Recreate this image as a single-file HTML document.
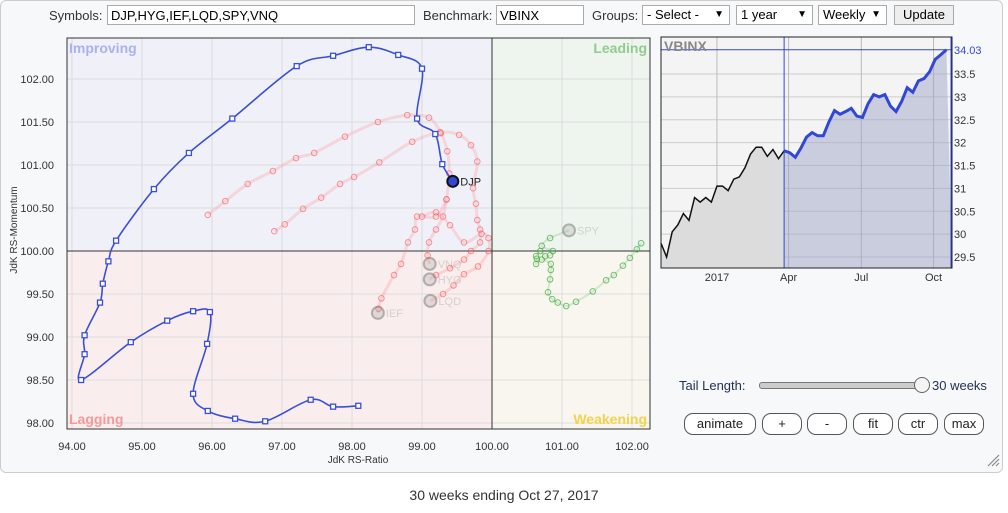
<!DOCTYPE html>
<html><head><meta charset="utf-8"><style>
body{margin:0;width:1008px;height:513px;background:#fff;font-family:"Liberation Sans",Arial,sans-serif;overflow:hidden;position:relative}
#panel{position:absolute;left:0;top:0;width:1001px;height:471px;border:1px solid #ccc;border-radius:6px;background:#f7f8fa}
.ctl{position:absolute;font-size:13px;color:#333}
.inp{position:absolute;height:20px;border:1px solid #aaa;background:#fff;font-size:13px;line-height:20px;padding-left:3px;box-sizing:border-box}
.sel{position:absolute;height:20px;border:1px solid #aaa;background:#fff;font-size:13px;line-height:18px;padding-left:4px;box-sizing:border-box}
.sel span{position:absolute;right:5px;font-size:10px}
.btn{position:absolute;height:22px;border:1px solid #555;border-radius:9px;background:#fff;font-size:13px;line-height:20px;text-align:center;box-sizing:border-box;color:#222}
#cap{position:absolute;top:487px;left:0;width:1008px;text-align:center;font-size:14px;color:#333}
</style></head><body>
<div id="panel"></div>
<div class="ctl" style="left:49px;top:8px">Symbols:</div>
<div class="inp" style="left:107px;top:5px;width:308px">DJP,HYG,IEF,LQD,SPY,VNQ</div>
<div class="ctl" style="left:423px;top:8px">Benchmark:</div>
<div class="inp" style="left:496px;top:5px;width:88px">VBINX</div>
<div class="ctl" style="left:592px;top:8px">Groups:</div>
<div class="sel" style="left:642px;top:5px;width:88px">- Select -<span>▼</span></div>
<div class="sel" style="left:736px;top:5px;width:77px">1 year<span>▼</span></div>
<div class="sel" style="left:818px;top:5px;width:69px">Weekly<span>▼</span></div>
<div class="sel" style="left:894px;top:5px;width:60px;background:#eee;text-align:center;padding:0">Update</div>
<svg id="svg" width="1008" height="513" style="position:absolute;left:0;top:0"></svg>
<div class="ctl" style="left:679px;top:378px;color:#235">Tail Length:</div>
<div style="position:absolute;left:759px;top:382px;width:162px;height:5px;border:1px solid #777;border-radius:3px;background:#ccc"></div>
<div style="position:absolute;left:914px;top:377px;width:14px;height:14px;border:1px solid #666;border-radius:50%;background:#f4f4f4"></div>
<div class="ctl" style="left:932px;top:378px;color:#235">30 weeks</div>
<div class="btn" style="left:684px;top:413px;width:72px">animate</div>
<div class="btn" style="left:762px;top:413px;width:40px">+</div>
<div class="btn" style="left:807px;top:413px;width:40px">-</div>
<div class="btn" style="left:853px;top:413px;width:40px">fit</div>
<div class="btn" style="left:898px;top:413px;width:40px">ctr</div>
<div class="btn" style="left:944px;top:413px;width:40px">max</div>
<div id="cap">30 weeks ending Oct 27, 2017</div>
<script>
const xTicks=[94,95,96,97,98,99,100,101,102];
const yTicks=[98,98.5,99,99.5,100,100.5,101,101.5,102];
const djpRatio=[98.09,97.73,97.41,96.76,96.33,95.94,95.73,95.93,95.97,95.73,95.36,94.84,94.13,94.18,94.18,94.40,94.44,94.52,94.63,95.17,95.67,96.29,97.21,97.73,98.24,98.66,99.0,98.93,99.19,99.29,99.44];
const djpMom=[98.20,98.19,98.27,98.02,98.05,98.14,98.34,98.92,99.29,99.30,99.19,98.94,98.50,98.80,99.02,99.40,99.62,99.88,100.12,100.72,101.14,101.54,102.15,102.27,102.37,102.28,102.12,101.54,101.36,101.01,100.81];
const vnqRatio=[95.94,96.19,96.51,96.87,97.2,97.46,97.9,98.37,98.79,99.1,99.27,99.36,99.39,99.35,99.3,99.2,99.1,99.08,99.11];
const vnqMom=[100.42,100.58,100.78,100.93,101.08,101.14,101.33,101.5,101.58,101.55,101.37,101.16,100.9,100.6,100.4,100.25,100.1,99.95,99.85];
const hygRatio=[96.89,97.04,97.3,97.56,97.83,98.03,98.39,98.86,99.26,99.53,99.7,99.79,99.73,99.77,99.79,99.83,99.83,99.7,99.6,99.4,99.2,99.11];
const hygMom=[100.23,100.31,100.49,100.62,100.78,100.86,101.03,101.27,101.38,101.35,101.23,101.04,100.73,100.55,100.36,100.25,100.1,100.0,99.9,99.8,99.72,99.67];
const lqdRatio=[99.0,99.2,99.4,99.6,99.85,99.95,99.95,99.8,99.6,99.45,99.3,99.12];
const lqdMom=[100.4,100.45,100.3,100.1,100.2,100.15,100.0,99.82,99.73,99.6,99.5,99.42];
const iefRatio=[99.35,99.2,98.93,98.9,98.8,98.7,98.6,98.42,98.38,98.37];
const iefMom=[100.6,100.4,100.4,100.25,100.1,99.85,99.72,99.45,99.33,99.28];
const spyRatio=[102.13,102.07,101.97,101.87,101.74,101.63,101.44,101.2,101.06,100.94,100.86,100.8,100.83,100.84,100.84,100.71,100.63,100.64,100.63,100.69,100.76,100.83,100.87,100.71,100.83,101.1];
const spyMom=[100.09,100.02,99.92,99.83,99.72,99.66,99.53,99.41,99.36,99.40,99.44,99.52,99.67,99.78,99.85,99.9,99.85,99.91,99.94,100.0,99.94,99.95,100.0,100.06,100.15,100.24];
const benchPre=[29.8,29.5,30.05,30.2,30.45,30.3,30.8,30.7,30.8,30.7,31.05,31.05,30.95,31.2,31.25,31.45,31.75,31.9,31.9,31.7,31.85,31.65,31.82];
const benchTail=[31.82,31.78,31.68,31.88,32.12,32.22,32.15,32.15,32.45,32.7,32.62,32.68,32.75,32.58,32.55,32.85,33.05,33.0,33.05,32.8,32.68,32.9,33.2,33.1,33.35,33.4,33.55,33.82,33.92,34.03];
const benchTicks=[29.5,30,30.5,31,31.5,32,32.5,33,33.5];
const monthLabels=["2017","Apr","Jul","Oct"];
const monthWeeks=[10,22.8,35.8,48.7];

const S=document.getElementById('svg');const NS='http://www.w3.org/2000/svg';
function mk(t,a,p){const e=document.createElementNS(NS,t);for(const k in a)e.setAttribute(k,a[k]);(p||S).appendChild(e);return e;}
const L=67,R=650,T=38,B=429;
const X=v=>72+(v-94)*70, Y=v=>251-(v-100)*86;
const cx=X(100),cy=Y(100);
let q;
q=mk('rect',{x:L,y:T,width:cx-L,height:cy-T,fill:'#eff0f8'});
q=mk('rect',{x:cx,y:T,width:R-cx,height:cy-T,fill:'#eef4ee'});
q=mk('rect',{x:L,y:cy,width:cx-L,height:B-cy,fill:'#f9eded'});
q=mk('rect',{x:cx,y:cy,width:R-cx,height:B-cy,fill:'#f8f6ee'});
xTicks.forEach(v=>{const x=X(v);let g=mk('line',{x1:x,x2:x,y1:T,y2:B,stroke:'#ddd'});
 let t=mk('text',{x:x,y:450,'text-anchor':'middle','font-size':11,fill:'#333'});t.textContent=v.toFixed(2);});
yTicks.forEach(v=>{const y=Y(v);let g=mk('line',{x1:L,x2:R,y1:y,y2:y,stroke:'#ddd'});
 let t=mk('text',{x:54,y:y+4,'text-anchor':'end','font-size':11,fill:'#333'});t.textContent=v.toFixed(2);});
q=mk('line',{x1:cx,x2:cx,y1:T,y2:B,stroke:'#333'});
q=mk('line',{x1:L,x2:R,y1:cy,y2:cy,stroke:'#333'});
q=mk('rect',{x:L,y:T,width:R-L,height:B-T,fill:'none',stroke:'#333'});
function lab(txt,x,y,c,anc,nm){const t=mk('text',{x:x,y:y,fill:c,'font-size':14,'font-weight':'bold','text-anchor':anc});t.textContent=txt;}
lab('Improving',69,53,'#a9b2ee','start','improving-label');lab('Leading',647,53,'#90cc90','end','leading-label');
lab('Lagging',69,424,'#f59a9a','start','lagging-label');lab('Weakening',647,424,'#f2d34a','end','weakening-label');
q=mk('text',{x:358,y:463,'text-anchor':'middle','font-size':10,fill:'#333'});q.textContent='JdK RS-Ratio';
q=mk('text',{x:17,y:230,'text-anchor':'middle','font-size':10,fill:'#333',transform:'rotate(-90 17 230)'});q.textContent='JdK RS-Momentum';
function spline(pts){let d='M'+pts[0][0]+','+pts[0][1];for(let i=0;i<pts.length-1;i++){const p0=pts[i-1]||pts[i],p1=pts[i],p2=pts[i+1],p3=pts[i+2]||p2;
 d+=' C'+(p1[0]+(p2[0]-p0[0])/6)+','+(p1[1]+(p2[1]-p0[1])/6)+' '+(p2[0]-(p3[0]-p1[0])/6)+','+(p2[1]-(p3[1]-p1[1])/6)+' '+p2[0]+','+p2[1];}return d;}
function tail(rx,my,name,lc,lw,pc,ps,endFill,endR,endStroke,labC,sq){
 const g=mk('g',{});
 const pts=rx.map((v,i)=>[X(v),Y(my[i])]);
 let p=mk('path',{d:spline(pts),fill:'none',stroke:lc,'stroke-width':lw},g);
 pts.slice(0,-1).forEach(q=>{let m=sq?mk('rect',{x:q[0]-2.5,y:q[1]-2.5,width:5,height:5,fill:'#fff',stroke:pc,'stroke-width':1.3},g):mk('circle',{cx:q[0],cy:q[1],r:2.8,fill:'none',stroke:pc,'stroke-width':1},g);
  });
 const e=pts[pts.length-1];
 let c=mk('circle',{cx:e[0],cy:e[1],r:endR,fill:endFill,stroke:endStroke,'stroke-width':2},g);
 let t=mk('text',{x:e[0]+endR+2,y:e[1]+4,'font-size':11,fill:labC},g);t.textContent=name;
}
const rl='rgba(255,130,130,0.25)',rp='rgba(255,80,80,0.6)',gh='rgba(150,150,150,0.25)';
tail(vnqRatio,vnqMom,'VNQ',rl,3,rp,2.8,gh,6,'rgba(120,120,120,0.5)','rgba(150,150,150,0.35)');
tail(hygRatio,hygMom,'HYG',rl,3,rp,2.8,gh,6,'rgba(120,120,120,0.5)','rgba(150,150,150,0.35)');
tail(lqdRatio,lqdMom,'LQD',rl,3,rp,2.8,gh,6,'rgba(120,120,120,0.5)','rgba(150,150,150,0.35)');
tail(iefRatio,iefMom,'IEF',rl,3,rp,2.8,gh,6,'rgba(120,120,120,0.5)','rgba(150,150,150,0.35)');
tail(spyRatio,spyMom,'SPY','rgba(120,200,120,0.3)',2,'rgba(60,170,60,0.7)',2.8,gh,6,'rgba(120,120,120,0.5)','rgba(150,150,150,0.35)');
tail(djpRatio,djpMom,'DJP','#3a4fd8',1.6,'#3a4fd8',2.5,'#3347d6',5.5,'#111','#222',true);
// mini chart
const mL=661,mR=952,mT=37,mB=268,n=benchPre.length+benchTail.length-1;
const MX=i=>mL+i*(mR-mL)/n, MY=v=>257-(v-29.5)*45.75;
q=mk('rect',{x:mL,y:mT,width:mR-mL,height:mB-mT,fill:'#f4f4f4'});
benchTicks.forEach(v=>{let g=mk('line',{x1:mL,x2:mR,y1:MY(v),y2:MY(v),stroke:'#ccc'});
 let t=mk('text',{x:954,y:MY(v)+4,'font-size':11,fill:'#333'});t.textContent=String(v);});
monthLabels.forEach((m,i)=>{const x=MX(monthWeeks[i]);let g=mk('line',{x1:x,x2:x,y1:mT,y2:mB,stroke:'#bbb'});
 let t=mk('text',{x:x,y:281,'text-anchor':'middle','font-size':11,fill:'#333'});t.textContent=m;});
const k=benchPre.length-1;
const pp=benchPre.map((v,i)=>MX(i)+','+MY(v)).join(' L');
const tp=benchTail.map((v,i)=>MX(i+k)+','+MY(v)).join(' L');
q=mk('path',{d:'M'+pp+' L'+MX(k)+','+mB+' L'+mL+','+mB+'Z',fill:'#dcdcdc'});
q=mk('path',{d:'M'+tp+' L'+MX(n)+','+mB+' L'+MX(k)+','+mB+'Z',fill:'rgba(160,165,200,0.5)'});
q=mk('path',{d:'M'+pp,fill:'none',stroke:'#111','stroke-width':1.5});
q=mk('path',{d:'M'+tp,fill:'none',stroke:'#3347d6','stroke-width':3});
q=mk('line',{x1:MX(k),x2:MX(k),y1:mT,y2:mB,stroke:'#3347d6'});
const last=benchTail[benchTail.length-1];
q=mk('line',{x1:mL,x2:mR,y1:MY(last),y2:MY(last),stroke:'#3347d6'});
q=mk('line',{x1:mR-1,x2:mR-1,y1:mT,y2:mB,stroke:'#3347d6'});
q=mk('text',{x:954,y:MY(last)+4,'font-size':11,fill:'#3347d6'});q.textContent=last.toFixed(2);
q=mk('rect',{x:mL,y:mT,width:mR-mL,height:mB-mT,fill:'none',stroke:'#222'});
q=mk('text',{x:664,y:51,'font-size':14,'font-weight':'bold',fill:'#888'});q.textContent='VBINX';
q=mk('path',{d:'M988,466 L999,455 M992,466 L999,459 M996,466 L999,463',stroke:'#888','stroke-width':1.2});
</script>
</body></html>
